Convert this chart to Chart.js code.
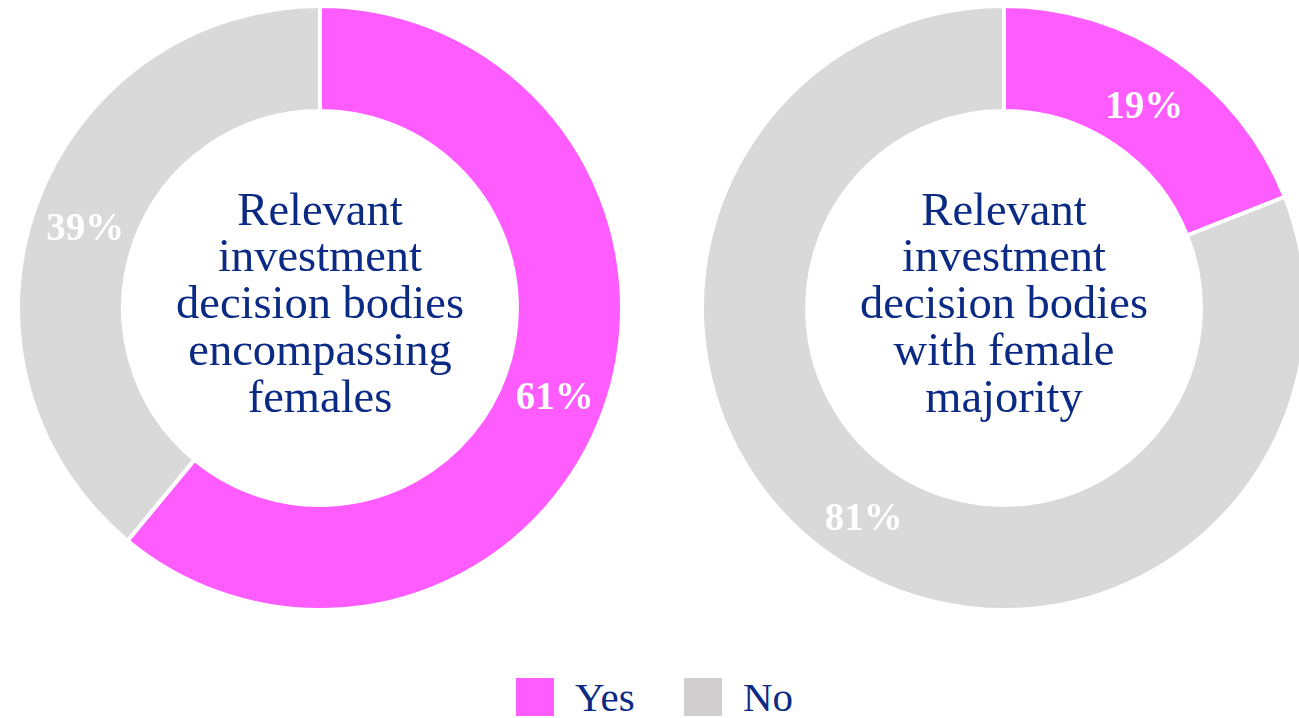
<!DOCTYPE html>
<html>
<head>
<meta charset="utf-8">
<script src="https://cdn.jsdelivr.net/npm/chart.js@4.4.1/dist/chart.umd.min.js"></script>
<style>
  html, body { margin: 0; padding: 0; width: 1299px; height: 718px; overflow: hidden; background: #ffffff; }
  .wrap { position: absolute; width: 608px; height: 608px; top: 4px; }
  #w1 { left: 16px; }
  #w2 { left: 700px; }
  .legend { position: absolute; top: 678px; left: 516px; height: 38px; font-family: "Liberation Serif", "Times New Roman", serif; font-size: 41px; color: #0b2a84; }
  .item { position: absolute; top: 0; white-space: nowrap; }
  .sw { position: absolute; top: 0; width: 38px; height: 38px; }
  .lab { position: absolute; top: -6px; line-height: 50px; }
</style>
</head>
<body>
<div class="wrap" id="w1"><canvas id="c1" width="608" height="608"></canvas></div>
<div class="wrap" id="w2"><canvas id="c2" width="608" height="608"></canvas></div>
<div class="legend" id="legend"></div>
<script>
const categories = ["Yes", "No"];
const chart1Values = [61, 39];
const chart2Values = [19, 81];
const chart1Title = ["Relevant", "investment", "decision bodies", "encompassing", "females"];
const chart2Title = ["Relevant", "investment", "decision bodies", "with female", "majority"];
const sliceColors = ["#ff5cff", "#d9d9d9"];
const legendColors = ["#ff5cff", "#d0cece"];
const textColor = "#0b2a84";
const serif = '"Liberation Serif", "Times New Roman", serif';

const centerAndLabels = {
  id: 'centerAndLabels',
  afterDatasetsDraw(chart, args, opts) {
    const ctx = chart.ctx;
    const meta = chart.getDatasetMeta(0);
    const data = chart.data.datasets[0].data;
    ctx.save();
    // slice labels
    ctx.fillStyle = '#ffffff';
    ctx.font = 'bold 39px ' + serif;
    ctx.textAlign = 'center';
    ctx.textBaseline = 'middle';
    meta.data.forEach((arc, i) => {
      const p = arc.tooltipPosition();
      ctx.fillText(data[i] + '%', p.x, p.y + 6);
    });
    // center title
    const arc0 = meta.data[0];
    const cx = arc0.x, cy = arc0.y;
    const lines = opts.lines;
    const lh = 46.8;
    ctx.fillStyle = textColor;
    ctx.font = '46.5px ' + serif;
    const start = cy - 2 - lh * (lines.length - 1) / 2;
    lines.forEach((l, i) => ctx.fillText(l, cx, start + i * lh));
    ctx.restore();
  }
};

function makeChart(id, values, lines) {
  return new Chart(document.getElementById(id), {
    type: 'doughnut',
    data: {
      labels: categories,
      datasets: [{
        data: values,
        backgroundColor: sliceColors,
        borderColor: '#ffffff',
        borderWidth: 4,
        hoverOffset: 0
      }]
    },
    options: {
      responsive: false,
      animation: false,
      cutout: '65.2%',
      layout: { padding: 0 },
      plugins: {
        legend: { display: false },
        tooltip: { enabled: false },
        centerAndLabels: { lines: lines }
      }
    },
    plugins: [centerAndLabels]
  });
}

makeChart('c1', chart1Values, chart1Title);
makeChart('c2', chart2Values, chart2Title);

// legend
const legend = document.getElementById('legend');
const offsets = [0, 168];
categories.forEach((c, i) => {
  const item = document.createElement('div');
  item.className = 'item';
  item.style.left = offsets[i] + 'px';
  const sw = document.createElement('div');
  sw.className = 'sw';
  sw.style.background = legendColors[i];
  const lab = document.createElement('div');
  lab.className = 'lab';
  lab.style.left = '59px';
  lab.textContent = c;
  item.appendChild(sw);
  item.appendChild(lab);
  legend.appendChild(item);
});
</script>
</body>
</html>
